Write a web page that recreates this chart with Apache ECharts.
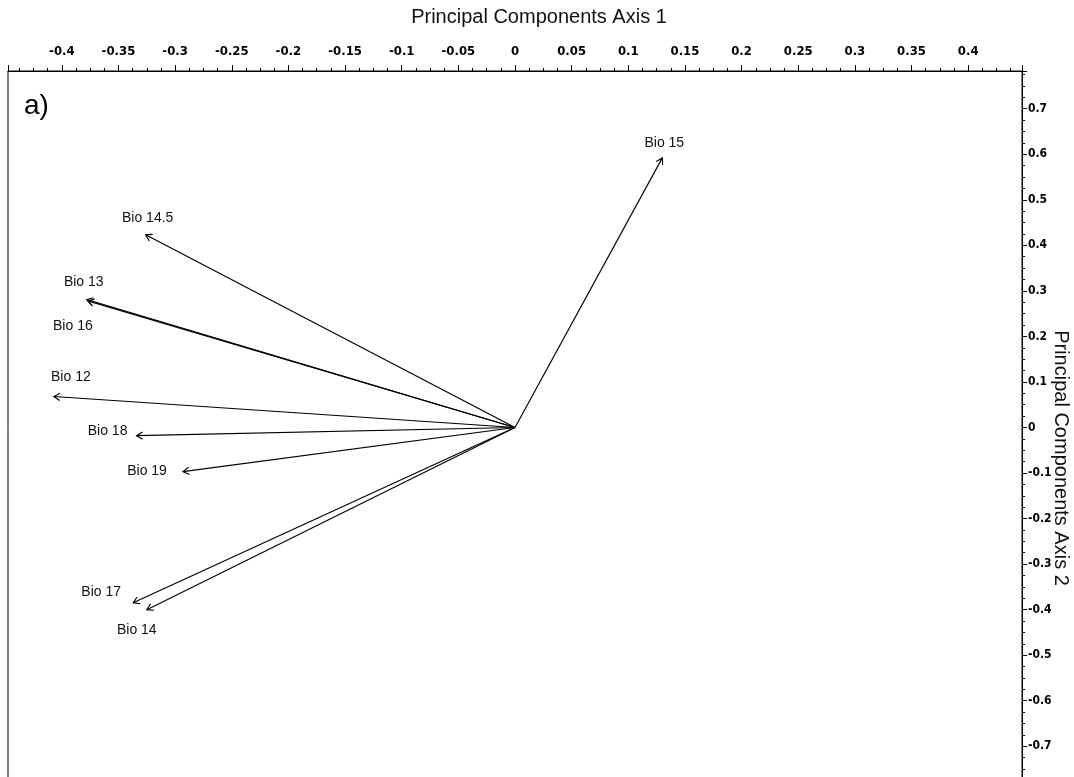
<!DOCTYPE html>
<html>
<head>
<meta charset="utf-8">
<script src="https://cdn.jsdelivr.net/npm/echarts@6/dist/echarts.min.js"></script>
<style>
html,body{margin:0;padding:0;background:#fff;overflow:hidden;}
#chart{width:1074px;height:800px;}
</style>
</head>
<body>
<div id="chart"></div>
<script>
// ---- data ----
const names = ['Bio 15','Bio 14.5','Bio 13','Bio 16','Bio 12','Bio 18','Bio 19','Bio 17','Bio 14'];
const pc1 = [0.130, -0.326, -0.378, -0.377, -0.407, -0.334, -0.293, -0.337, -0.325];
const pc2 = [0.592, 0.423, 0.281, 0.278, 0.068, -0.018, -0.097, -0.385, -0.400];
const axis1Title = 'Principal Components Axis 1';
const axis2Title = 'Principal Components Axis 2';
const panelLabel = 'a)';

// ---- label placement (pixel offsets from arrow tip; style only) ----
const labelOffsets = {
  'Bio 15': [2, -15], 'Bio 14.5': [2, -17], 'Bio 13': [-3, -17], 'Bio 16': [-15, 25],
  'Bio 12': [17, -19], 'Bio 18': [-29, -5], 'Bio 19': [-36, -1], 'Bio 17': [-32, -11],
  'Bio 14': [-10, 20]
};

const seriesData = names.map((n, i) => [pc1[i], pc2[i], n]);

const tickFontX = {fontFamily: '"DejaVu Sans", sans-serif', fontSize: 13, fontWeight: 'bold condensed', color: '#000'};
const tickFontY = {fontFamily: '"DejaVu Sans", sans-serif', fontSize: 12, fontWeight: 'bold condensed', color: '#000'};

const chart = echarts.init(document.getElementById('chart'), null, {renderer: 'canvas'});
chart.setOption({
  animation: false,
  backgroundColor: '#fff',
  grid: {left: 8, top: 71, width: 1014, height: 713, show: true, borderColor: '#000', borderWidth: 1, containLabel: false},
  xAxis: {
    type: 'value', position: 'top', min: -0.4475, max: 0.4475, splitNumber: 18,
    axisLine: {show: true, onZero: false, lineStyle: {color: '#000', width: 1}},
    axisTick: {show: true, inside: false, length: 6, lineStyle: {color: '#000'}},
    minorTick: {show: true, splitNumber: 4, length: 3, lineStyle: {color: '#000'}},
    splitLine: {show: false}, minorSplitLine: {show: false},
    axisLabel: Object.assign({margin: 13, formatter: v => Math.abs(v) > 0.42 ? '' : String(+v.toFixed(2))}, tickFontX)
  },
  yAxis: {
    type: 'value', position: 'right', min: -0.7828, max: 0.7828, splitNumber: 16,
    axisLine: {show: true, onZero: false, lineStyle: {color: '#000', width: 1}},
    axisTick: {show: true, inside: false, length: 5, lineStyle: {color: '#000'}},
    minorTick: {show: true, splitNumber: 4, length: 3, lineStyle: {color: '#000'}},
    splitLine: {show: false}, minorSplitLine: {show: false},
    axisLabel: Object.assign({margin: 6, formatter: v => Math.abs(v) > 0.75 ? '' : String(+v.toFixed(2))}, tickFontY)
  },
  graphic: [
    {type: 'text', x: 539, y: 17, style: {text: axis1Title, align: 'center', verticalAlign: 'middle', font: '20px "Liberation Sans", Arial, sans-serif', fill: '#111'}},
    {type: 'text', x: 1061, y: 458, rotation: -Math.PI / 2, style: {text: axis2Title, align: 'center', verticalAlign: 'middle', font: '20px "Liberation Sans", Arial, sans-serif', fill: '#111'}},
    {type: 'text', x: 24, y: 106, style: {text: panelLabel, verticalAlign: 'middle', font: '28px "Liberation Sans", Arial, sans-serif', fill: '#000'}}
  ],
  series: [{
    type: 'custom',
    coordinateSystem: 'cartesian2d',
    clip: false,
    data: seriesData,
    renderItem: function (params, api) {
      const o = api.coord([0, 0]);
      const p = api.coord([api.value(0), api.value(1)]);
      const a = Math.atan2(p[1] - o[1], p[0] - o[0]);
      const L = 7, s = 0.55;
      const h1 = [p[0] - L * Math.cos(a - s), p[1] - L * Math.sin(a - s)];
      const h2 = [p[0] - L * Math.cos(a + s), p[1] - L * Math.sin(a + s)];
      const name = names[params.dataIndex];
      const off = labelOffsets[name] || [0, -14];
      return {
        type: 'group',
        children: [
          {type: 'line', shape: {x1: o[0], y1: o[1], x2: p[0], y2: p[1]}, style: {stroke: '#000', lineWidth: 1.15}},
          {type: 'polyline', shape: {points: [h1, p, h2]}, style: {stroke: '#000', lineWidth: 1.15, fill: null}},
          {type: 'text', x: p[0] + off[0], y: p[1] + off[1], style: {text: name, align: 'center', verticalAlign: 'middle', font: '14px "Liberation Sans", Arial, sans-serif', fill: '#111'}}
        ]
      };
    }
  }]
});
</script>
</body>
</html>
